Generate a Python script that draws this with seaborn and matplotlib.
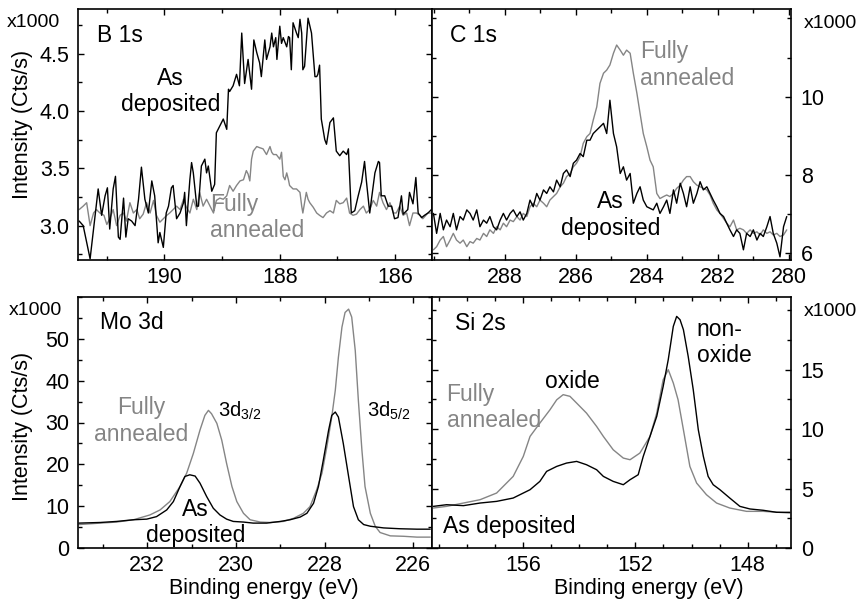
import matplotlib
matplotlib.use("Agg")
import matplotlib.pyplot as plt
import seaborn as sns
from matplotlib.ticker import MultipleLocator, FixedLocator

# ---------------- data ----------------
B1S_E_AS = [191.48, 191.41, 191.29, 191.21, 191.15, 191.09, 191.03, 190.99, 190.95, 190.89, 190.85, 190.80,
            190.77, 190.71, 190.67, 190.63, 190.57, 190.51, 190.45, 190.40, 190.34, 190.28, 190.22, 190.17,
            190.11, 190.08, 190.02, 189.97, 189.93, 189.88, 189.85, 189.79, 189.73, 189.67, 189.65, 189.62,
            189.56, 189.53, 189.50, 189.44, 189.41, 189.36, 189.30, 189.27, 189.24, 189.18, 189.13, 189.10,
            189.04, 188.98, 188.92, 188.89, 188.87, 188.81, 188.75, 188.70, 188.66, 188.61, 188.55, 188.49,
            188.45, 188.40, 188.35, 188.32, 188.26, 188.23, 188.17, 188.14, 188.11, 188.07, 188.05, 188.00,
            187.97, 187.94, 187.88, 187.85, 187.83, 187.80, 187.77, 187.71, 187.68, 187.65, 187.62, 187.60,
            187.57, 187.51, 187.45, 187.39, 187.36, 187.34, 187.31, 187.28, 187.22, 187.19, 187.13, 187.07,
            187.02, 186.96, 186.90, 186.84, 186.81, 186.76, 186.70, 186.64, 186.58, 186.53, 186.50, 186.44,
            186.41, 186.35, 186.29, 186.27, 186.24, 186.18, 186.12, 186.06, 186.01, 185.95, 185.89, 185.86,
            185.78, 185.75, 185.69, 185.64, 185.60, 185.54, 185.49, 185.43, 185.37]
B1S_I_AS = [3.04, 3.00, 2.71, 3.06, 3.32, 3.09, 3.26, 3.33, 2.97, 3.32, 3.43, 2.90,
            2.88, 3.24, 2.90, 3.06, 3.04, 3.00, 3.23, 3.51, 3.23, 3.11, 3.39, 3.26,
            2.85, 2.94, 2.81, 3.11, 3.17, 3.33, 3.35, 3.06, 3.11, 3.20, 3.29, 3.00,
            3.40, 3.55, 3.46, 3.17, 3.17, 3.52, 3.58, 3.46, 3.52, 3.30, 3.36, 3.81,
            3.87, 3.93, 3.84, 4.19, 4.17, 4.22, 4.32, 4.22, 4.68, 4.24, 4.45, 4.19,
            4.62, 4.51, 4.42, 4.30, 4.62, 4.45, 4.56, 4.68, 4.56, 4.64, 4.45, 4.74,
            4.59, 4.64, 4.56, 4.65, 4.64, 4.36, 4.77, 4.68, 4.64, 4.80, 4.68, 4.36,
            4.39, 4.81, 4.68, 4.30, 4.30, 4.32, 4.40, 3.93, 3.75, 3.71, 3.90, 3.94,
            3.65, 3.61, 3.65, 3.62, 3.67, 3.11, 3.13, 3.26, 3.38, 3.56, 3.40, 3.11,
            3.23, 3.46, 3.56, 3.55, 3.26, 3.26, 3.17, 3.17, 3.06, 3.07, 3.26, 3.10,
            3.14, 3.29, 3.19, 3.42, 3.11, 3.07, 3.09, 3.11, 3.14]
B1S_E_FA = [191.48, 191.41, 191.35, 191.29, 191.23, 191.18, 191.12, 191.05, 191.00, 190.95, 190.89, 190.83,
            190.77, 190.71, 190.66, 190.60, 190.54, 190.48, 190.43, 190.37, 190.31, 190.25, 190.19, 190.14,
            190.08, 190.02, 189.96, 189.91, 189.85, 189.79, 189.73, 189.67, 189.62, 189.56, 189.50, 189.44,
            189.39, 189.33, 189.27, 189.21, 189.15, 189.10, 189.04, 188.98, 188.92, 188.87, 188.81, 188.75,
            188.69, 188.63, 188.58, 188.55, 188.52, 188.49, 188.46, 188.40, 188.35, 188.29, 188.23, 188.17,
            188.14, 188.11, 188.06, 188.00, 187.97, 187.94, 187.91, 187.88, 187.85, 187.83, 187.77, 187.71,
            187.65, 187.62, 187.60, 187.54, 187.51, 187.48, 187.42, 187.36, 187.31, 187.25, 187.19, 187.13,
            187.07, 187.02, 186.96, 186.90, 186.84, 186.79, 186.73, 186.67, 186.61, 186.55, 186.50, 186.44,
            186.38, 186.32, 186.27, 186.21, 186.15, 186.09, 186.03, 185.98, 185.92, 185.86, 185.80, 185.75,
            185.69, 185.63, 185.57, 185.52, 185.43, 185.37]
B1S_I_FA = [3.14, 3.17, 3.20, 3.00, 3.11, 3.14, 3.11, 3.09, 3.01, 3.06, 3.14, 3.00,
            3.09, 3.11, 3.04, 3.20, 3.11, 3.14, 3.06, 3.10, 3.20, 3.11, 3.22, 3.09,
            3.03, 3.06, 3.09, 3.11, 3.14, 3.17, 3.14, 3.23, 3.16, 3.11, 3.23, 3.14,
            3.29, 3.17, 3.23, 3.17, 3.11, 3.22, 3.24, 3.23, 3.26, 3.35, 3.30, 3.35,
            3.39, 3.40, 3.48, 3.45, 3.39, 3.58, 3.65, 3.69, 3.68, 3.67, 3.62, 3.69,
            3.64, 3.62, 3.62, 3.58, 3.64, 3.43, 3.40, 3.46, 3.40, 3.35, 3.32, 3.32,
            3.29, 3.17, 3.11, 3.29, 3.23, 3.20, 3.16, 3.11, 3.09, 3.07, 3.11, 3.13,
            3.11, 3.22, 3.19, 3.20, 3.24, 3.11, 3.09, 3.10, 3.14, 3.17, 3.11, 3.14,
            3.22, 3.17, 3.29, 3.20, 3.14, 3.20, 3.11, 3.11, 3.17, 3.09, 3.11, 3.00,
            3.11, 3.11, 3.09, 3.06, 3.11, 3.11]

C1S_E = [290.01, 289.92, 289.82, 289.73, 289.64, 289.54, 289.45, 289.36, 289.26, 289.17, 289.07, 288.98,
         288.89, 288.79, 288.70, 288.60, 288.51, 288.42, 288.32, 288.23, 288.13, 288.04, 287.95, 287.85,
         287.76, 287.66, 287.57, 287.48, 287.38, 287.29, 287.20, 287.10, 287.01, 286.91, 286.82, 286.73,
         286.63, 286.54, 286.44, 286.35, 286.26, 286.16, 286.07, 285.98, 285.88, 285.79, 285.69, 285.60,
         285.51, 285.41, 285.32, 285.22, 285.13, 285.04, 284.94, 284.85, 284.75, 284.66, 284.57, 284.47,
         284.38, 284.28, 284.19, 284.10, 284.00, 283.91, 283.82, 283.72, 283.63, 283.53, 283.44, 283.35,
         283.25, 283.16, 283.06, 282.97, 282.88, 282.78, 282.69, 282.59, 282.50, 282.41, 282.31, 282.22,
         282.13, 282.03, 281.94, 281.84, 281.75, 281.66, 281.56, 281.47, 281.38, 281.28, 281.19, 281.09,
         281.00, 280.90, 280.81, 280.72, 280.62, 280.53, 280.44, 280.34, 280.25, 280.15, 280.06]
C1S_I_AS = [7.02, 6.51, 7.02, 6.60, 6.85, 6.68, 7.02, 6.60, 6.94, 6.85, 7.11, 7.02,
            6.85, 7.11, 6.68, 6.85, 6.77, 6.94, 6.68, 6.60, 6.85, 7.02, 6.85, 7.02,
            7.11, 6.94, 7.06, 6.85, 7.02, 7.36, 7.19, 7.53, 7.36, 7.62, 7.53, 7.70,
            7.57, 7.87, 7.70, 8.04, 8.13, 7.96, 8.30, 8.38, 8.55, 8.47, 8.89, 8.89,
            9.06, 9.15, 9.23, 9.32, 9.06, 9.91, 9.06, 8.72, 8.04, 8.21, 7.87, 8.04,
            7.28, 7.53, 7.70, 7.36, 7.19, 7.15, 7.11, 7.28, 7.02, 7.19, 7.36, 7.02,
            7.62, 7.28, 7.79, 7.53, 7.19, 7.70, 7.28, 7.53, 7.83, 7.62, 7.70, 7.53,
            7.36, 7.19, 7.02, 6.94, 6.77, 6.60, 6.43, 6.60, 6.51, 6.09, 6.51, 6.43,
            6.60, 6.34, 6.51, 6.43, 6.68, 6.94, 6.51, 6.26, 5.91, 6.68, 6.94]
C1S_I_FA = [6.09, 6.17, 6.34, 6.43, 6.17, 6.34, 6.51, 6.34, 6.26, 6.34, 6.17, 6.30,
            6.26, 6.38, 6.34, 6.51, 6.43, 6.60, 6.51, 6.68, 6.60, 6.77, 6.68, 6.85,
            6.81, 6.94, 6.85, 7.02, 6.94, 7.19, 7.28, 7.19, 7.36, 7.28, 7.19, 7.36,
            7.45, 7.53, 7.70, 7.79, 7.96, 8.04, 8.21, 8.30, 8.47, 8.81, 8.98, 9.06,
            9.40, 9.74, 10.34, 10.60, 10.68, 10.81, 11.11, 11.32, 11.19, 11.06, 11.19, 11.11,
            10.60, 10.09, 9.57, 9.06, 8.72, 8.38, 8.21, 7.53, 7.40, 7.45, 7.49, 7.45,
            7.53, 7.66, 7.74, 7.87, 7.96, 7.96, 7.83, 7.74, 7.70, 7.66, 7.62, 7.49,
            7.28, 7.11, 7.02, 6.89, 6.77, 6.68, 6.85, 6.60, 6.64, 6.60, 6.51, 6.60,
            6.51, 6.55, 6.47, 6.60, 6.51, 6.55, 6.47, 6.51, 6.43, 6.47, 6.60]

MO_E_FA = [233.54, 233.06, 232.69, 232.31, 231.94, 231.71, 231.49, 231.26, 231.11, 230.96, 230.81, 230.70,
           230.62, 230.55, 230.43, 230.32, 230.21, 230.09, 229.98, 229.83, 229.68, 229.45, 229.23, 228.93,
           228.70, 228.48, 228.33, 228.18, 228.06, 227.95, 227.84, 227.76, 227.69, 227.61, 227.54, 227.46,
           227.39, 227.31, 227.24, 227.16, 227.09, 226.97, 226.86, 226.75, 226.52, 226.22, 225.92, 225.62]
MO_I_FA = [5.6, 5.95, 6.2, 6.75, 7.9, 9.1, 11.1, 14.7, 17.9, 22.6, 28.2, 31.7,
           32.9, 32.1, 29.8, 25.8, 20.2, 14.7, 11.1, 8.3, 6.75, 6.2, 6.1, 6.35,
           7.1, 8.3, 9.9, 13.9, 17.9, 24.2, 31.3, 37.7, 45.6, 52.8, 56.3, 57.1,
           55.2, 47.2, 35.3, 23.4, 14.7, 8.3, 5.2, 3.7, 2.9, 2.8, 2.6, 2.6]
MO_E_AS = [233.54, 233.06, 232.69, 232.31, 232.01, 231.79, 231.56, 231.41, 231.26, 231.15, 231.04, 230.92,
           230.81, 230.66, 230.51, 230.36, 230.21, 230.06, 229.83, 229.61, 229.31, 229.00, 228.78, 228.55,
           228.40, 228.25, 228.14, 228.03, 227.91, 227.84, 227.76, 227.69, 227.58, 227.46, 227.35, 227.24,
           227.12, 226.97, 226.67, 226.30, 225.92, 225.62]
MO_I_AS = [5.95, 6.1, 6.35, 6.75, 6.9, 7.5, 9.1, 11.1, 14.7, 17.1, 17.5, 17.2,
           15.5, 12.3, 9.5, 7.9, 6.9, 6.35, 6.2, 5.95, 5.95, 6.35, 6.75, 7.4,
           8.3, 10.7, 14.7, 21.0, 28.2, 31.7, 32.5, 31.3, 25.0, 17.1, 9.9, 6.75,
           5.6, 5.2, 4.8, 4.6, 4.5, 4.5]

SI_E_AS = [159.19, 158.72, 158.12, 157.53, 156.94, 156.35, 155.99, 155.75, 155.40, 155.16, 154.80, 154.45,
           154.09, 153.74, 153.38, 153.14, 152.79, 152.43, 152.19, 151.90, 151.72, 151.48, 151.24, 151.01,
           150.83, 150.65, 150.53, 150.41, 150.29, 150.12, 149.94, 149.76, 149.58, 149.41, 149.23, 148.99,
           148.64, 148.28, 147.92, 147.45, 146.97, 146.50]
SI_I_AS = [3.5, 3.64, 3.56, 3.78, 3.92, 4.2, 4.62, 4.9, 5.6, 6.44, 6.86, 7.14,
           7.28, 7.0, 6.58, 6.02, 5.6, 5.32, 5.74, 6.16, 7.7, 9.38, 11.06, 13.59,
           15.83, 18.63, 19.47, 19.19, 18.35, 16.11, 13.31, 9.94, 7.7, 6.02, 5.32, 4.9,
           4.2, 3.5, 3.28, 3.17, 3.0, 3.0]
SI_E_FA = [159.19, 158.72, 158.12, 157.53, 156.94, 156.35, 155.99, 155.75, 155.40, 155.04, 154.80, 154.57,
           154.33, 154.09, 153.74, 153.38, 153.14, 152.79, 152.43, 152.19, 151.84, 151.48, 151.24, 151.01,
           150.83, 150.65, 150.48, 150.29, 150.06, 149.82, 149.47, 149.11, 148.64, 148.04, 147.45, 146.50]
SI_I_FA = [3.36, 3.5, 3.78, 4.06, 4.62, 6.02, 7.7, 9.38, 10.5, 11.62, 12.46, 12.89,
           12.75, 12.18, 11.34, 10.22, 9.38, 8.26, 7.56, 7.42, 7.98, 9.38, 11.34, 14.15,
           14.99, 13.87, 12.46, 9.94, 6.86, 5.46, 4.48, 3.78, 3.36, 3.08, 3.08, 2.94]

# ---------------- style ----------------
sns.set_style("ticks", {"axes.edgecolor": "black", "xtick.color": "black", "ytick.color": "black",
                        "text.color": "black", "axes.labelcolor": "black"})
plt.rcParams['font.family'] = ['Liberation Sans', 'DejaVu Sans']
plt.rcParams['mathtext.fontset'] = 'custom'
plt.rcParams['mathtext.rm'] = 'Liberation Sans'
plt.rcParams['mathtext.it'] = 'Liberation Sans:italic'

GREY = '#858585'
TICK_FS = 15.5
ANN_FS = 16.5
LAB_FS = 15.5

W, H = 860, 603
fig = plt.figure(figsize=(W / 100, H / 100), dpi=100)


def rect(l, t, r, b):
    return [l / W, 1 - b / H, (r - l) / W, (b - t) / H]


ax_b = fig.add_axes(rect(78, 9, 432, 260))
ax_c = fig.add_axes(rect(432, 9, 791, 260))
ax_mo = fig.add_axes(rect(78, 297, 432, 548))
ax_si = fig.add_axes(rect(432, 297, 791, 548))


def draw(ax, e, v, color):
    sns.lineplot(x=e, y=v, ax=ax, color=color, linewidth=1.0, estimator=None, sort=False)


draw(ax_b, B1S_E_FA, B1S_I_FA, GREY)
draw(ax_b, B1S_E_AS, B1S_I_AS, 'black')
draw(ax_c, C1S_E, C1S_I_FA, GREY)
draw(ax_c, C1S_E, C1S_I_AS, 'black')
draw(ax_mo, MO_E_FA, MO_I_FA, GREY)
draw(ax_mo, MO_E_AS, MO_I_AS, 'black')
draw(ax_si, SI_E_FA, SI_I_FA, GREY)
draw(ax_si, SI_E_AS, SI_I_AS, 'black')

ax_b.set_xlim(191.50, 185.36)
ax_b.set_ylim(2.70, 4.89)
ax_c.set_xlim(290.05, 279.94)
ax_c.set_ylim(5.83, 12.24)
ax_mo.set_xlim(233.56, 225.58)
ax_mo.set_ylim(0, 60)
ax_si.set_xlim(159.24, 146.46)
ax_si.set_ylim(0, 21.1)

ax_b.xaxis.set_major_locator(FixedLocator([190, 188, 186]))
ax_b.xaxis.set_minor_locator(MultipleLocator(1))
ax_b.yaxis.set_major_locator(FixedLocator([3.0, 3.5, 4.0, 4.5]))
ax_b.yaxis.set_minor_locator(MultipleLocator(0.25))

ax_c.xaxis.set_major_locator(FixedLocator([288, 286, 284, 282, 280]))
ax_c.xaxis.set_minor_locator(MultipleLocator(1))
ax_c.yaxis.set_major_locator(FixedLocator([6, 8, 10]))
ax_c.yaxis.set_minor_locator(MultipleLocator(1))

ax_mo.xaxis.set_major_locator(FixedLocator([232, 230, 228, 226]))
ax_mo.xaxis.set_minor_locator(MultipleLocator(1))
ax_mo.yaxis.set_major_locator(FixedLocator([0, 10, 20, 30, 40, 50]))
ax_mo.yaxis.set_minor_locator(MultipleLocator(5))

ax_si.xaxis.set_major_locator(FixedLocator([156, 152, 148]))
ax_si.xaxis.set_minor_locator(MultipleLocator(1))
ax_si.yaxis.set_major_locator(FixedLocator([0, 5, 10, 15]))
ax_si.yaxis.set_minor_locator(MultipleLocator(2.5))

for ax in (ax_b, ax_c, ax_mo, ax_si):
    ax.set_xlabel('')
    ax.set_ylabel('')
    for s in ax.spines.values():
        s.set_visible(True)
        s.set_linewidth(1.2)
        s.set_color('black')
    ax.tick_params(which='both', direction='in', top=True, bottom=True, left=True, right=True,
                   width=1.0, color='black', labelsize=TICK_FS)
    ax.tick_params(which='major', length=4.5)
    ax.tick_params(which='minor', length=3)
    ax.tick_params(axis='x', pad=5)
    ax.tick_params(axis='y', pad=6)
    ax.yaxis.set_major_formatter(matplotlib.ticker.FuncFormatter(lambda v, p: f'{v:g}'))

ax_b.yaxis.set_major_formatter(matplotlib.ticker.FormatStrFormatter('%.1f'))
for ax in (ax_c, ax_si):
    ax.tick_params(axis='y', labelleft=False, labelright=True, pad=7)

# panel titles
ax_b.text(0.054, 0.8685, 'B 1s', transform=ax_b.transAxes, fontsize=ANN_FS, va='baseline', ha='left')
ax_c.text(0.050, 0.8685, 'C 1s', transform=ax_c.transAxes, fontsize=ANN_FS, va='baseline', ha='left')
ax_mo.text(0.062, 0.871, 'Mo 3d', transform=ax_mo.transAxes, fontsize=ANN_FS, va='baseline', ha='left')
ax_si.text(0.064, 0.870, 'Si 2s', transform=ax_si.transAxes, fontsize=ANN_FS, va='baseline', ha='left')

# annotations
LS = 1.2
ax_b.text(189.89, 4.17, 'As\ndeposited', fontsize=ANN_FS, ha='center', va='center', linespacing=LS)
ax_b.text(189.21, 3.07, 'Fully\nannealed', fontsize=ANN_FS, ha='left', va='center', linespacing=LS,
          color=GREY, multialignment='left')
ax_c.text(284.19, 10.81, 'Fully\nannealed', fontsize=ANN_FS, ha='left', va='center', linespacing=LS,
          color=GREY, multialignment='left')
ax_c.text(285.02, 6.98, 'As\ndeposited', fontsize=ANN_FS, ha='center', va='center', linespacing=LS)
ax_mo.text(232.14, 30.4, 'Fully\nannealed', fontsize=ANN_FS, ha='center', va='center', linespacing=LS,
           color=GREY)
ax_mo.text(230.91, 6.07, 'As\ndeposited', fontsize=ANN_FS, ha='center', va='center', linespacing=LS)
ax_mo.text(230.40, 31.3, r'3d$_\mathregular{3/2}$', fontsize=14.5, ha='left', va='baseline')
ax_mo.text(227.05, 31.3, r'3d$_\mathregular{5/2}$', fontsize=14.5, ha='left', va='baseline')
ax_si.text(154.23, 13.45, 'oxide', fontsize=ANN_FS, ha='center', va='baseline')
ax_si.text(149.82, 17.28, 'non-\noxide', fontsize=ANN_FS, ha='left', va='center', linespacing=LS,
           multialignment='left')
ax_si.text(158.72, 11.82, 'Fully\nannealed', fontsize=ANN_FS, ha='left', va='center', linespacing=LS,
           color=GREY, multialignment='left')
ax_si.text(158.84, 1.26, 'As deposited', fontsize=ANN_FS, ha='left', va='baseline')

# multipliers
for (x, y) in [(33.5, 27), (830.5, 28), (35, 315), (830, 316)]:
    fig.text(x / W, 1 - y / H, 'x1000', fontsize=14, ha='center', va='baseline')

# axis labels
fig.text(22.5 / W, 1 - 124.5 / H, 'Intensity (Cts/s)', rotation=90, ha='center', va='center', fontsize=LAB_FS)
fig.text(22.5 / W, 1 - 426.5 / H, 'Intensity (Cts/s)', rotation=90, ha='center', va='center', fontsize=LAB_FS)
fig.text(264 / W, 1 - 594 / H, 'Binding energy (eV)', ha='center', va='baseline', fontsize=LAB_FS)
fig.text(648.5 / W, 1 - 594 / H, 'Binding energy (eV)', ha='center', va='baseline', fontsize=LAB_FS)

fig.savefig('out.png', dpi=100)
